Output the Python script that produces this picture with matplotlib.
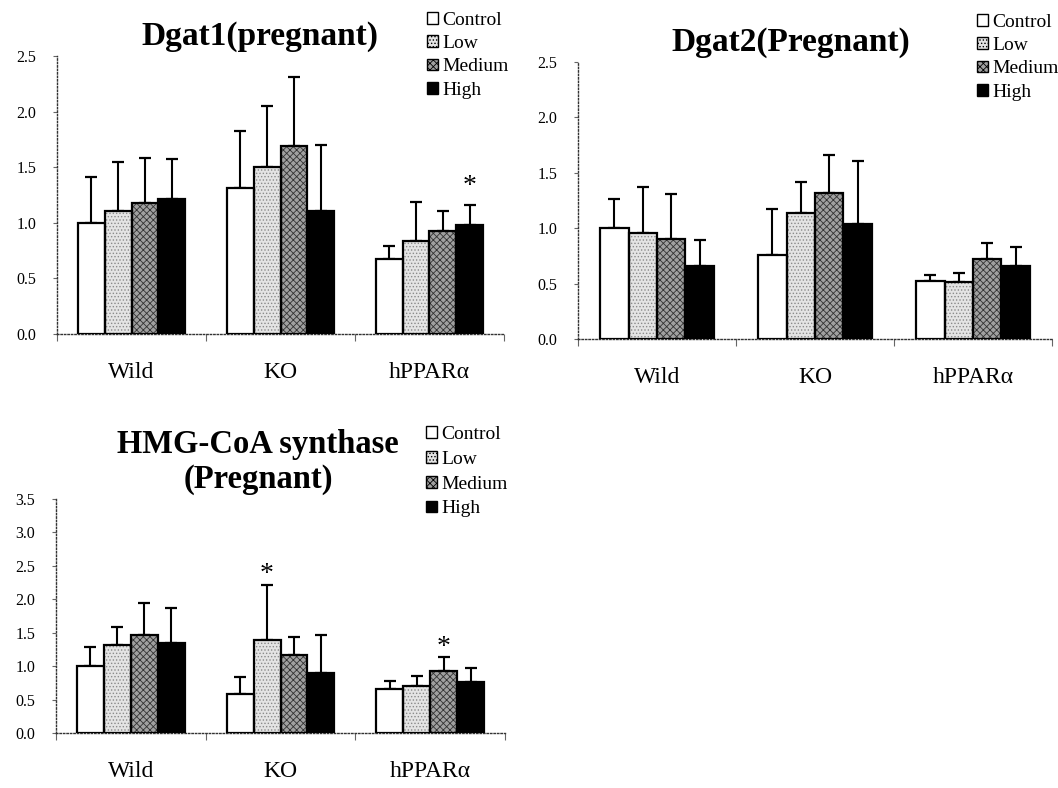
import matplotlib
matplotlib.use('Agg')
import matplotlib.pyplot as plt
from matplotlib.patches import Patch
import numpy as np

plt.rcParams['font.family'] = ['Liberation Serif', 'DejaVu Serif']
plt.rcParams['hatch.linewidth'] = 0.6

groups = ['Wild', 'KO', 'hPPARα']
doses = ['Control', 'Low', 'Medium', 'High']

# rows = dose, columns = group (Wild, KO, hPPARa)
dgat1_mean = [[1.00, 1.31, 0.67],
              [1.11, 1.50, 0.84],
              [1.18, 1.69, 0.93],
              [1.21, 1.11, 0.98]]
dgat1_sd = [[0.41, 0.52, 0.12],
            [0.44, 0.55, 0.35],
            [0.40, 0.62, 0.18],
            [0.36, 0.59, 0.18]]
dgat1_sig = [(2, 3)]

dgat2_mean = [[1.00, 0.76, 0.52],
              [0.96, 1.14, 0.51],
              [0.90, 1.32, 0.72],
              [0.66, 1.04, 0.66]]
dgat2_sd = [[0.26, 0.41, 0.06],
            [0.41, 0.28, 0.09],
            [0.41, 0.34, 0.15],
            [0.23, 0.57, 0.17]]
dgat2_sig = []

hmg_mean = [[1.00, 0.58, 0.66],
            [1.31, 1.39, 0.70],
            [1.46, 1.16, 0.93],
            [1.34, 0.89, 0.77]]
hmg_sd = [[0.29, 0.26, 0.12],
          [0.27, 0.83, 0.15],
          [0.49, 0.27, 0.21],
          [0.53, 0.57, 0.20]]
hmg_sig = [(1, 1), (2, 2)]

# fill colour, hatch, hatch colour for each dose
styles = [('white', None, 'white'),
          ('#e4e4e4', '.....', '#8a8a8a'),
          ('#a0a0a0', 'xxxxx', '#333333'),
          ('black', None, 'black')]

W, H = 1058, 788
fig = plt.figure(figsize=(W / 100, H / 100), dpi=100)


def px_axes(left, right, top, bottom):
    return fig.add_axes([left / W, 1 - bottom / H, (right - left) / W, (bottom - top) / H])


def panel(ax, means, sds, sig, ymax, star_off):
    x = np.arange(len(groups))
    bw = 0.18
    for i in range(len(doses)):
        pos = x + (i - 1.5) * bw
        fc, hatch, hc = styles[i]
        ax.bar(pos, means[i], bw, color=fc, edgecolor=hc, hatch=hatch, linewidth=0, zorder=2)
        ax.bar(pos, means[i], bw, fill=False, edgecolor='black', linewidth=1.6, zorder=3)
        ax.errorbar(pos, means[i], yerr=[np.zeros(len(groups)), sds[i]], fmt='none',
                    ecolor='black', elinewidth=1.5, capsize=4, capthick=1.6, zorder=1)
    for g, d in sig:
        top = means[d][g] + sds[d][g]
        ax.annotate('*', (g + (d - 1.5) * bw, top), xytext=(0, star_off),
                    textcoords='offset points', ha='center', va='center', fontsize=20)
    ax.set_xlim(-0.5, 2.5)
    ax.set_ylim(0, ymax)
    ax.set_yticks(np.arange(0, ymax + 0.01, 0.5))
    ax.set_yticklabels(['%.1f' % v for v in np.arange(0, ymax + 0.01, 0.5)], fontsize=11.5)
    ax.set_xticks(x)
    ax.set_xticklabels(groups, fontsize=17)
    ax.set_xticks([-0.5, 0.5, 1.5, 2.5], minor=True)
    ax.tick_params(axis='x', which='major', length=0, pad=20)
    ax.tick_params(axis='x', which='minor', length=5, width=0.8, color='#666666', direction='out')
    ax.tick_params(axis='y', length=3, width=0.8, color='#666666', pad=12)
    for s in ['top', 'right']:
        ax.spines[s].set_visible(False)
    for s in ['left', 'bottom']:
        ax.spines[s].set_linestyle((0, (1, 1.5)))
        ax.spines[s].set_color('#333333')
        ax.spines[s].set_linewidth(1.0)


def legend(ax, x, y, spacing=0.32):
    handles = [Patch(facecolor=styles[i][0], edgecolor='black', hatch=styles[i][1], linewidth=1.0)
               for i in range(len(doses))]
    ax.legend(handles, doses, loc='upper left', bbox_to_anchor=(x / W, 1 - y / H),
              bbox_transform=fig.transFigure, frameon=False, fontsize=14,
              handlelength=0.55, handleheight=0.55, handletextpad=0.25,
              labelspacing=spacing, borderpad=0, borderaxespad=0)


ax1 = px_axes(57, 504, 56, 334)
panel(ax1, dgat1_mean, dgat1_sd, dgat1_sig, 2.5, 13)
legend(ax1, 427, 12)
fig.text(260 / W, 1 - 36 / H, 'Dgat1(pregnant)', ha='center', va='center',
         fontsize=24, fontweight='bold')

ax2 = px_axes(578, 1052, 62, 339)
panel(ax2, dgat2_mean, dgat2_sd, dgat2_sig, 2.5, 13)
legend(ax2, 977, 14)
fig.text(791 / W, 1 - 43 / H, 'Dgat2(Pregnant)', ha='center', va='center',
         fontsize=24, fontweight='bold')

ax3 = px_axes(56, 505, 499, 733)
panel(ax3, hmg_mean, hmg_sd, hmg_sig, 3.5, 7)
legend(ax3, 426, 426, spacing=0.40)
fig.text(258 / W, 1 - 462 / H, 'HMG-CoA synthase\n(Pregnant)', ha='center', va='center',
         fontsize=23.5, fontweight='bold', linespacing=1.15)

fig.savefig('out.png', dpi=100)
